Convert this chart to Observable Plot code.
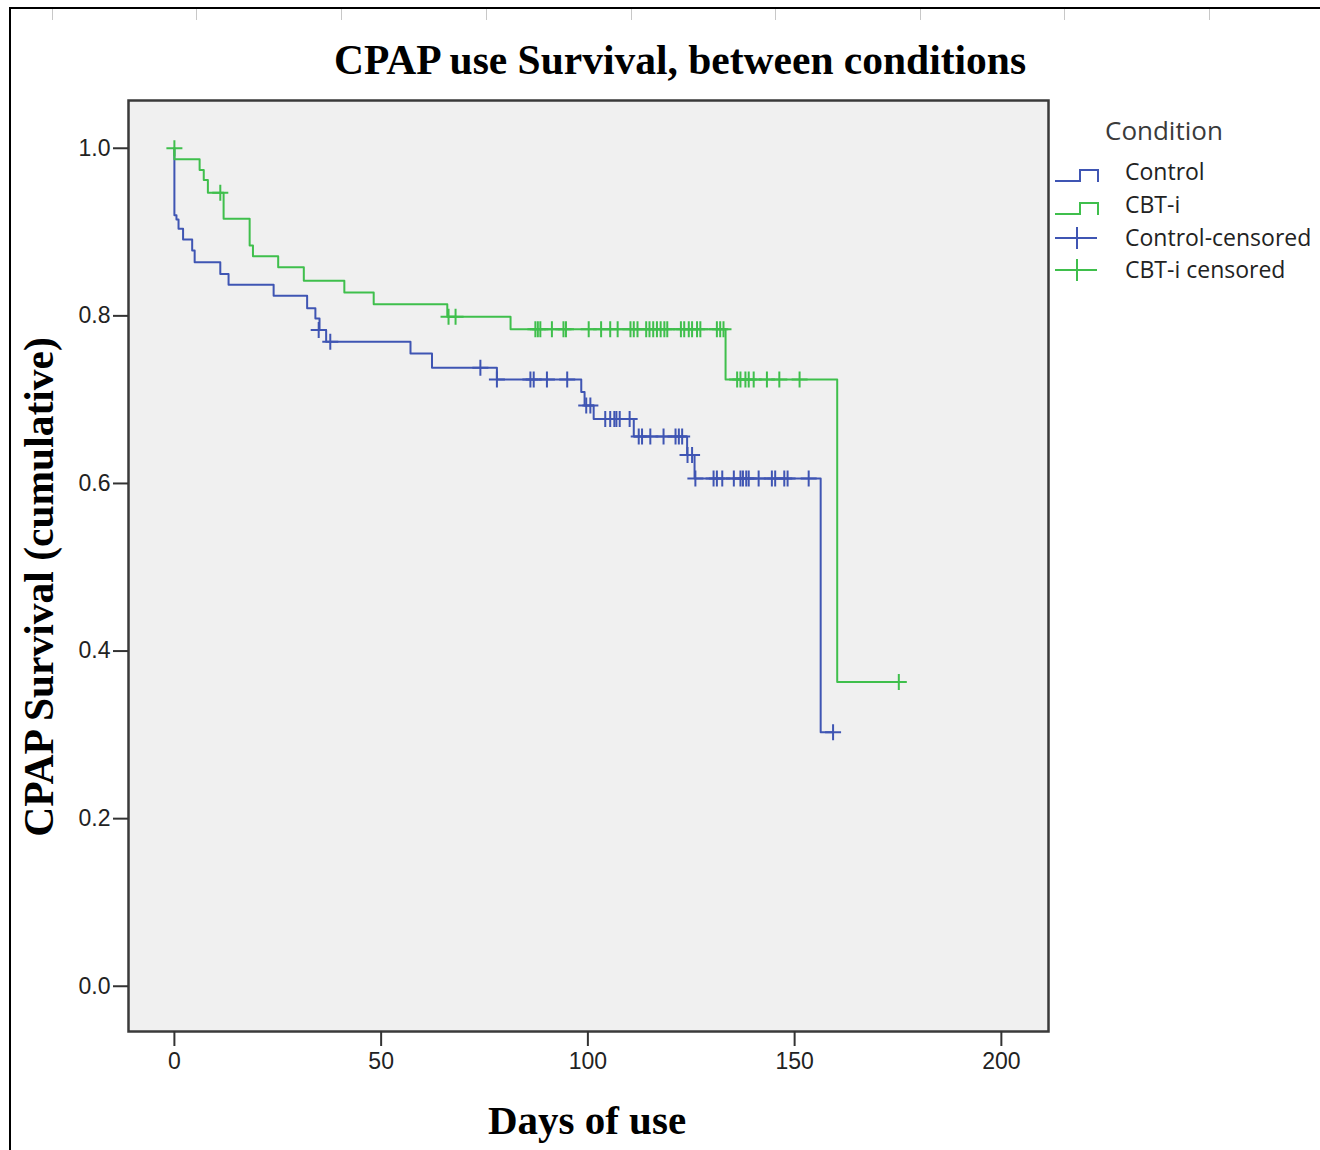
<!DOCTYPE html>
<html>
<head>
<meta charset="utf-8">
<script src="https://cdn.jsdelivr.net/npm/d3@7"></script>
<script src="https://cdn.jsdelivr.net/npm/@observablehq/plot@0.6"></script>
<style>
html, body { margin: 0; padding: 0; background: #fff; }
#wrap { position: relative; width: 1320px; height: 1150px; overflow: hidden; background: #fff; }
#chart { position: absolute; left: 0; top: 0; }
#border { position: absolute; left: 9px; top: 7px; right: -10px; bottom: -10px; border-top: 2px solid #000; border-left: 2px solid #000; }
.tt { position: absolute; top: 9px; width: 1px; height: 11px; background: #c8c8c8; }
.lbl { position: absolute; font-family: "Liberation Serif", "Times New Roman", serif; font-weight: bold; color: #000; white-space: nowrap; font-size: 41.5px; line-height: 42px; }
#title { left: 180px; width: 1000px; text-align: center; top: 39px; }
#xlabel { left: 387px; width: 400px; text-align: center; top: 1099px; font-size: 41px; }
#ylabel { left: 39px; top: 587px; transform: translate(-50%, -50%) rotate(-90deg); }
#legend { position: absolute; left: 1040px; top: 100px; }
</style>
</head>
<body>
<div id="wrap">
  <div id="border"></div>
  <div id="chart"></div>
  <div class="lbl" id="title">CPAP use Survival, between conditions</div>
  <div class="lbl" id="xlabel">Days of use</div>
  <div class="lbl" id="ylabel">CPAP Survival (cumulative)</div>
  <svg id="legend" width="280" height="200" xmlns="http://www.w3.org/2000/svg"></svg>
</div>
<script>
// ---- Data ----
const conditions = ["Control", "CBT-i"];
const legendLabels = ["Control", "CBT-i", "Control-censored", "CBT-i censored"];
const legendTitle = "Condition";

const controlDays = [0, 0, 0.5, 1.0, 2.1, 4.3, 4.9, 11.1, 13.1, 24.0, 32.1, 34.1, 35.1, 36.7, 57.1, 62.3, 78.0, 98.4, 99.2, 101.4, 111.1, 124.0, 125.8, 156.3, 159.3];
const controlSurv = [1.0, 0.920, 0.915, 0.904, 0.891, 0.878, 0.864, 0.850, 0.837, 0.824, 0.809, 0.797, 0.783, 0.769, 0.755, 0.738, 0.724, 0.709, 0.693, 0.677, 0.656, 0.634, 0.606, 0.303, 0.303];

const cbtDays = [0, 0, 6.1, 7.1, 8.1, 11.9, 18.2, 19.0, 25.1, 31.3, 41.1, 48.2, 66.0, 81.3, 133.3, 160.3, 175.2];
const cbtSurv = [1.0, 0.987, 0.974, 0.962, 0.947, 0.916, 0.884, 0.871, 0.858, 0.842, 0.828, 0.814, 0.799, 0.784, 0.724, 0.363, 0.363];

const controlCensDays = [34.9, 37.7, 74.0, 78.0, 86.1, 86.9, 90.1, 95.0, 99.6, 100.6,
  104.2, 105.4, 106.4, 106.9, 107.7, 110.1,
  112.3, 113.1, 115.1, 118.3, 121.2, 122.0, 122.8,
  124.1, 125.2,
  126.0, 130.4, 131.2, 132.5, 135.3, 136.9, 137.5, 138.3, 138.9, 141.3, 144.5, 145.3, 147.5, 148.3, 153.4,
  159.3];
const controlCensSurv = [0.783, 0.769, 0.738, 0.724, 0.724, 0.724, 0.724, 0.724, 0.693, 0.693,
  0.677, 0.677, 0.677, 0.677, 0.677, 0.677,
  0.656, 0.656, 0.656, 0.656, 0.656, 0.656, 0.656,
  0.634, 0.634,
  0.606, 0.606, 0.606, 0.606, 0.606, 0.606, 0.606, 0.606, 0.606, 0.606, 0.606, 0.606, 0.606, 0.606, 0.606,
  0.303];

const cbtCensDays = [0, 11.1, 66.3, 68.0,
  87.3, 87.9, 88.5, 91.3, 94.1, 94.7, 100.2, 103.2, 105.4, 107.2, 110.3, 111.1, 112.0, 114.1, 114.9, 115.8, 116.7, 117.6, 118.5, 119.2, 122.5, 123.3, 124.4, 125.2, 126.4, 127.2, 131.2, 132.0, 132.8,
  136.1, 136.9, 138.1, 138.9, 140.1, 143.3, 146.3, 151.2,
  175.2];
const cbtCensSurv = [1.0, 0.947, 0.799, 0.799,
  0.784, 0.784, 0.784, 0.784, 0.784, 0.784, 0.784, 0.784, 0.784, 0.784, 0.784, 0.784, 0.784, 0.784, 0.784, 0.784, 0.784, 0.784, 0.784, 0.784, 0.784, 0.784, 0.784, 0.784, 0.784, 0.784, 0.784, 0.784, 0.784,
  0.724, 0.724, 0.724, 0.724, 0.724, 0.724, 0.724, 0.724,
  0.363];

const xTicks = [0, 50, 100, 150, 200];
const yTicks = [0, 0.2, 0.4, 0.6, 0.8, 1.0];

// ---- Styling ----
const BLUE = "#3f55b3";
const GREEN = "#3fbf4c";

const toRows = (days, surv, cond) => days.map((d, i) => ({ day: d, surv: surv[i], cond }));
const controlRows = toRows(controlDays, controlSurv, conditions[0]);
const cbtRows = toRows(cbtDays, cbtSurv, conditions[1]);
const controlCens = toRows(controlCensDays, controlCensSurv, conditions[0]);
const cbtCens = toRows(cbtCensDays, cbtCensSurv, conditions[1]);

const plusSymbol = {
  draw(ctx, size) {
    const r = Math.sqrt(size / Math.PI);
    ctx.moveTo(-r, 0); ctx.lineTo(r, 0);
    ctx.moveTo(0, -r); ctx.lineTo(0, r);
  }
};

const chart = Plot.plot({
  width: 1320,
  height: 1150,
  marginLeft: 128,
  marginRight: 272,
  marginTop: 100,
  marginBottom: 119,
  x: { domain: [-11.1, 211.4] },
  y: { domain: [-0.054, 1.057] },
  style: { background: "transparent", fontFamily: "'Liberation Sans', Arial, sans-serif", color: "#222" },
  marks: [
    Plot.frame({ fill: "#f0f0f0", stroke: null }),
    Plot.line(controlRows, { x: "day", y: "surv", curve: "step-after", stroke: BLUE, strokeWidth: 2 }),
    Plot.line(cbtRows, { x: "day", y: "surv", curve: "step-after", stroke: GREEN, strokeWidth: 2 }),
    Plot.dot(controlCens, { x: "day", y: "surv", symbol: plusSymbol, r: 8, fill: "none", stroke: BLUE, strokeWidth: 2 }),
    Plot.dot(cbtCens, { x: "day", y: "surv", symbol: plusSymbol, r: 8, fill: "none", stroke: GREEN, strokeWidth: 2 }),
    Plot.frame({ stroke: "#3a3a3a", strokeWidth: 2.5, fill: "none" }),
    Plot.axisX({ ticks: xTicks, tickSize: 15, tickPadding: 6, fontSize: 23, label: null, stroke: "#333", strokeWidth: 2, fill: "#222" }),
    Plot.axisY({ ticks: yTicks, tickFormat: d3.format(".1f"), tickSize: 15, tickPadding: 3, fontSize: 23, label: null, stroke: "#333", strokeWidth: 2, fill: "#222" })
  ]
});
document.getElementById("chart").appendChild(chart);

// top decorative tick marks of the outer frame
const wrap = document.getElementById("wrap");
[52, 196, 341, 486, 631, 775, 920, 1064, 1209].forEach(x => {
  const t = document.createElement("div");
  t.className = "tt";
  t.style.left = x + "px";
  wrap.appendChild(t);
});

// legend (coordinates relative to legend svg at 1040,100)
const lg = d3.select("#legend");
const font = "'Open Sans', 'Noto Sans', sans-serif";
lg.append("text").attr("x", 65).attr("y", 33).attr("dominant-baseline", "middle")
  .attr("font-family", font).attr("font-size", 26).attr("fill", "#3a3a3a").text(legendTitle);
const rowsY = [74, 107, 140, 172];
const cols = [BLUE, GREEN, BLUE, GREEN];
legendLabels.forEach((lab, i) => {
  const y = rowsY[i];
  if (i < 2) {
    lg.append("path")
      .attr("d", `M15,${y + 7} H40 V${y - 4} H58 V${y + 8}`)
      .attr("fill", "none").attr("stroke", cols[i]).attr("stroke-width", 2);
  } else {
    lg.append("path")
      .attr("d", `M15,${y - 2} H57 M37,${y - 13} V${y + 9}`)
      .attr("fill", "none").attr("stroke", cols[i]).attr("stroke-width", 2);
  }
  lg.append("text").attr("x", 85).attr("y", y).attr("dominant-baseline", "middle")
    .attr("font-family", font).attr("font-size", 23).attr("fill", "#222").text(lab);
});
</script>
</body>
</html>
